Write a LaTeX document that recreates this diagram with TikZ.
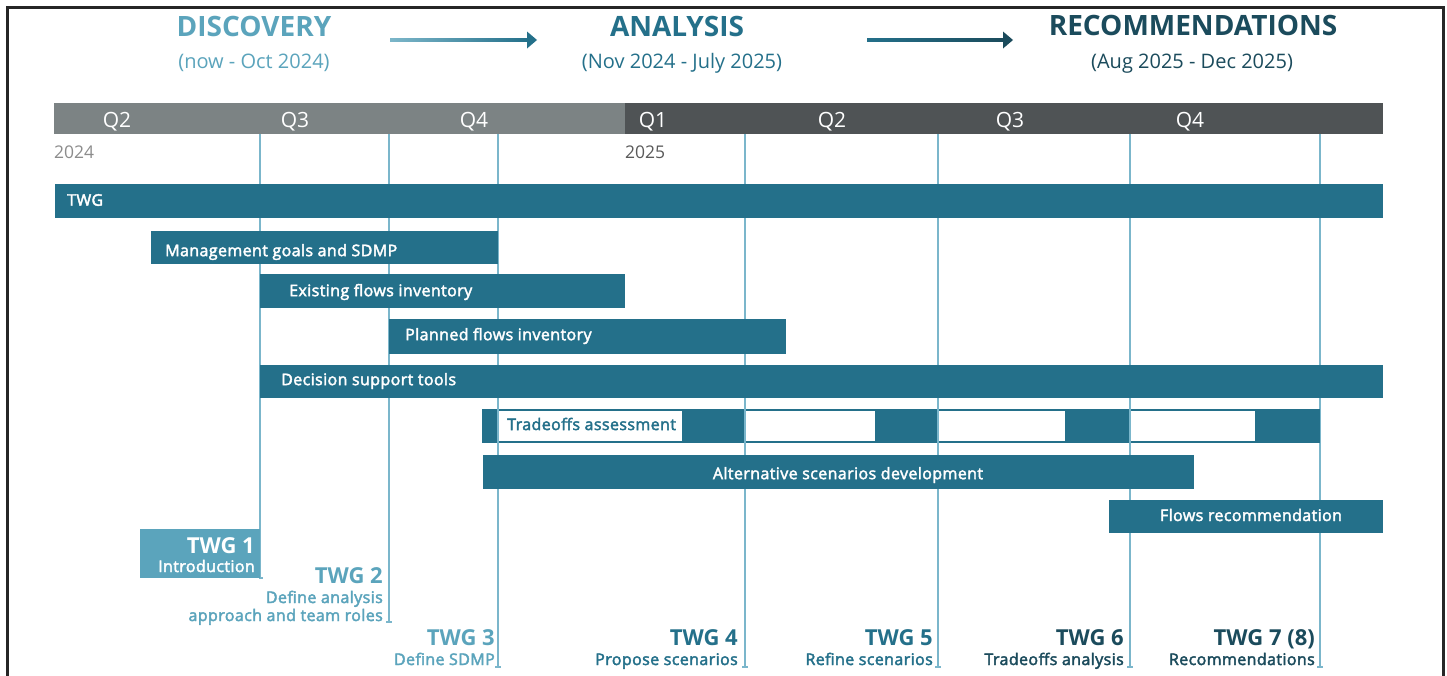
\documentclass[tikz,border=0pt]{standalone}
\usepackage{fontspec}
\setmainfont{Open Sans}
\newfontfamily\sbf{Open Sans}[FakeBold=2.5, LetterSpace=2.5]
\definecolor{teal}{HTML}{24708A}
\definecolor{lblue}{HTML}{5BA4BC}
\definecolor{vblue}{HTML}{7BB6CB}
\definecolor{navy}{HTML}{1B4B5C}
\definecolor{hgray}{HTML}{7C8384}
\definecolor{hdark}{HTML}{4F5355}
\definecolor{ygray}{HTML}{8C8C8C}
\definecolor{ydark}{HTML}{5A5A5A}
\tikzset{
  barbox/.style={fill=teal, draw=none, anchor=north west, inner sep=0pt},
  bartext/.style={text=white, inner sep=0pt, font=\sbf\fontsize{16}{19}\selectfont},
  whitebox/.style={fill=white, draw=none, anchor=north west, inner sep=0pt},
  qlabel/.style={text=white, inner sep=0pt, anchor=base, font=\fontsize{21}{25}\selectfont},
  vline/.style={draw=vblue, line width=1.5pt},
  title/.style={inner sep=0pt, anchor=base, font=\bfseries\fontsize{28}{32}\selectfont},
  subtitle/.style={inner sep=0pt, anchor=base, font=\fontsize{20}{23}\selectfont},
  twgname/.style={inner sep=0pt, anchor=base east, font=\bfseries\fontsize{22}{26}\selectfont},
  twgsub/.style={inner sep=0pt, anchor=base east, font=\sbf\fontsize{16}{19}\selectfont},
}
\begin{document}
\begin{tikzpicture}[x=1pt,y=-1pt]
\useasboundingbox (0,0) rectangle (1447,675);
\fill[white] (0,0) rectangle (1447,675);
% frame
\draw[line width=3pt, black!85] (7,678) -- (7,7) -- (1443,7) -- (1443,678);

% titles
\node[title, text=lblue] (disc) at (254,36) {DISCOVERY};
\node[subtitle, text=lblue] (discd) at (254,68) {(now - Oct 2024)};
\node[title, text=teal] (anal) at (677,36) {ANALYSIS};
\node[subtitle, text=teal] (anald) at (682,68) {(Nov 2024 - July 2025)};
\node[title, text=navy] (reco) at (1193,35) {RECOMMENDATIONS};
\node[subtitle, text=navy] (recod) at (1192,68) {(Aug 2025 - Dec 2025)};
% arrows
\coordinate (a1s) at (390,40); \coordinate (a1e) at (537,40);
\shade[left color=lblue!80, right color=teal] (390,38.5) rectangle (528,41.5);
\fill[teal] (527,31.5) -- (a1e) -- (527,48.5) -- cycle;
\coordinate (a2s) at (867,40); \coordinate (a2e) at (1013,40);
\shade[left color=teal, right color=navy] (867,38.5) rectangle (1004,41.5);
\fill[navy] (1003,31.5) -- (a2e) -- (1003,48.5) -- cycle;

% header bar
\node[fill=hgray, anchor=north west, inner sep=0pt, minimum width=571pt, minimum height=31pt] (hb1) at (54,103) {};
\node[fill=hdark, anchor=north west, inner sep=0pt, minimum width=758pt, minimum height=31pt] (hb2) at (625,103) {};
\node[qlabel] (q1) at (117,127) {Q2};
\node[qlabel] (q2) at (295,127) {Q3};
\node[qlabel] (q3) at (474,127) {Q4};
\node[qlabel] (q4) at (653,127) {Q1};
\node[qlabel] (q5) at (832,127) {Q2};
\node[qlabel] (q6) at (1010,127) {Q3};
\node[qlabel] (q7) at (1190,127) {Q4};
\node[inner sep=0pt, anchor=base west, text=ygray, font=\fontsize{17.5}{20}\selectfont] (y1) at (54,158) {2024};
\node[inner sep=0pt, anchor=base west, text=ydark, font=\fontsize{17.5}{20}\selectfont] (y2) at (625,158) {2025};

% vertical lines
\coordinate (v1t) at (260,134); \coordinate (v1b) at (260,578);
\coordinate (v2t) at (389,134); \coordinate (v2b) at (389,622);
\coordinate (v3t) at (498,134); \coordinate (v3b) at (498,667);
\coordinate (v4t) at (745,134); \coordinate (v4b) at (745,667);
\coordinate (v5t) at (938,134); \coordinate (v5b) at (938,667);
\coordinate (v6t) at (1130,134); \coordinate (v6b) at (1130,667);
\coordinate (v7t) at (1320,134); \coordinate (v7b) at (1320,667);
\draw[vline] (v1t) -- (v1b) -- ++(3,0);
\draw[vline] (v2t) -- (v2b);
\draw[vline] (v3t) -- (v3b);
\draw[vline] (v4t) -- (v4b);
\draw[vline] (v5t) -- (v5b);
\draw[vline] (v6t) -- (v6b);
\draw[vline] (v7t) -- (v7b);
\foreach \p in {v2b,v3b,v4b,v5b,v6b,v7b} \draw[vline] ([xshift=-3pt]\p) -- ([xshift=3pt]\p);

% bars
\node[barbox, minimum width=1328pt, minimum height=34pt] (b1) at (55,184) {};
\node[bartext, anchor=west] (t1) at (67,200) {TWG};
\node[barbox, minimum width=347pt, minimum height=33pt] (b2) at (151,231) {};
\node[bartext, anchor=west] (t2) at (165,252) {Management goals and SDMP};
\node[barbox, minimum width=365pt, minimum height=34pt] (b3) at (260,274) {};
\node[bartext, anchor=west] (t3) at (289,292) {Existing flows inventory};
\node[barbox, minimum width=397pt, minimum height=35pt] (b4) at (389,319) {};
\node[bartext, anchor=west] (t4) at (405,336) {Planned flows inventory};
\node[barbox, minimum width=1123pt, minimum height=33pt] (b5) at (260,365) {};
\node[bartext, anchor=west] (t5) at (281,381) {Decision support tools};
% tradeoffs row
\node[barbox, minimum width=838pt, minimum height=34pt] (b6) at (482,409) {};
\node[whitebox, minimum width=184pt, minimum height=30pt] (w1) at (498,411) {};
\node[whitebox, minimum width=130pt, minimum height=30pt] (w2) at (745,411) {};
\node[whitebox, minimum width=126pt, minimum height=30pt] (w3) at (939,411) {};
\node[whitebox, minimum width=124pt, minimum height=30pt] (w4) at (1131,411) {};
\draw[vline] (745,409) -- (745,443) (938,409) -- (938,443) (1130,409) -- (1130,443) (498,409) -- (498,443);
\node[bartext, text=teal, anchor=west] (t6) at (507,424) {Tradeoffs assessment};
\node[barbox, minimum width=711pt, minimum height=34pt] (b7) at (483,455) {};
\node[bartext] (t7) at (848,475) {Alternative scenarios development};
\node[barbox, minimum width=274pt, minimum height=33pt] (b8) at (1109,500) {};
\node[bartext] (t8) at (1251,515) {Flows recommendation};

% TWG milestones
\node[fill=lblue, anchor=north west, inner sep=0pt, minimum width=120pt, minimum height=49pt] (m1box) at (140,529) {};
\node[twgname, text=white] (m1) at (255,553) {TWG 1};
\node[twgsub, text=white] (m1s) at (255,572) {Introduction};
\node[twgname, text=lblue] (m2) at (383,583) {TWG 2};
\node[twgsub, text=lblue] (m2s) at (383,603) {Define analysis};
\node[twgsub, text=lblue] (m2t) at (383,621) {approach and team roles};
\node[twgname, text=lblue] (m3) at (495,645) {TWG 3};
\node[twgsub, text=lblue] (m3s) at (495,665) {Define SDMP};
\node[twgname, text=teal] (m4) at (738,645) {TWG 4};
\node[twgsub, text=teal] (m4s) at (738,665) {Propose scenarios};
\node[twgname, text=teal] (m5) at (933,645) {TWG 5};
\node[twgsub, text=teal] (m5s) at (933,665) {Refine scenarios};
\node[twgname, text=navy] (m6) at (1124,645) {TWG 6};
\node[twgsub, text=navy] (m6s) at (1124,665) {Tradeoffs analysis};
\node[twgname, text=navy] (m7) at (1315,645) {TWG 7 (8)};
\node[twgsub, text=navy] (m7s) at (1315,665) {Recommendations};
\end{tikzpicture}
\end{document}
